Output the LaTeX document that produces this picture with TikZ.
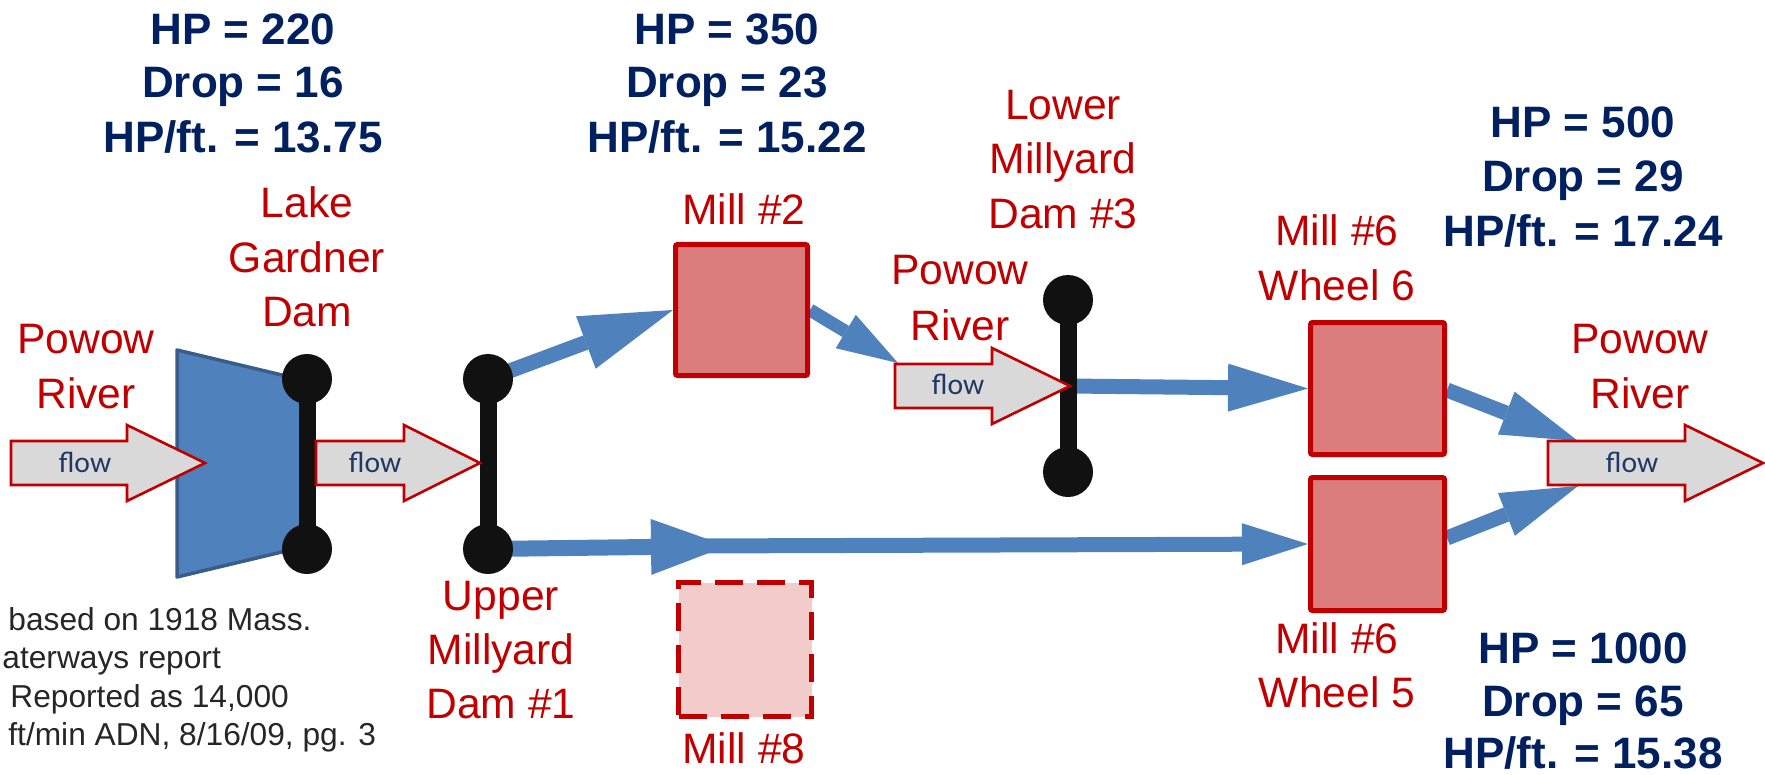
\documentclass[tikz,border=0pt]{standalone}
\usepackage{fontspec}
\setmainfont{Liberation Sans}
\newfontfamily\flowfont{Carlito}
\usetikzlibrary{arrows.meta,calc}
\pgfdeclarelayer{bg}
\pgfsetlayers{bg,main}
\definecolor{navy}{HTML}{002060}
\definecolor{myred}{HTML}{C00000}
\definecolor{millfill}{HTML}{DC7D7D}
\definecolor{milleightfill}{HTML}{F2CBCB}
\definecolor{riverblue}{HTML}{4F81BD}
\definecolor{damedge}{HTML}{385D8A}
\definecolor{flowgray}{HTML}{D9D9D9}
\definecolor{flownavy}{HTML}{1F3864}
\definecolor{notegray}{HTML}{262626}
\definecolor{damblack}{HTML}{111111}
\newcommand{\flowarrow}[4]{%
  \filldraw[flowshape] (#1,#4-22) -- (#2,#4-22) -- (#2,#4-38) -- (#3,#4) -- (#2,#4+38) -- (#2,#4+22) -- (#1,#4+22) -- cycle;}
\begin{document}
\begin{tikzpicture}[x=0.5pt,y=-0.5pt,
  hp/.style={font=\fontsize{22}{26}\selectfont\bfseries, text=navy, anchor=base, inner sep=0pt},
  lbl/.style={font=\fontsize{21.3}{26}\selectfont, text=myred, anchor=base, inner sep=0pt},
  note/.style={font=\fontsize{15.85}{19}\selectfont, text=notegray, anchor=base west, inner sep=0pt},
  flowtxt/.style={font=\flowfont\fontsize{14.8}{18}\selectfont, text=flownavy, anchor=base, inner sep=0pt},
  millbox/.style={draw=myred, fill=millfill, line width=2.5pt, rounded corners=1pt, minimum width=67pt, minimum height=66pt, inner sep=0pt},
  milleight/.style={draw=myred, fill=milleightfill, line width=2.5pt, dash pattern=on 14pt off 7pt, minimum width=66.5pt, minimum height=67pt, inner sep=0pt},
  damdot/.style={circle, fill=damblack, minimum size=25pt, inner sep=0pt},
  damline/.style={line width=8.5pt, draw=damblack},
  flowshape/.style={draw=myred, fill=flowgray, line width=1.3pt, line join=miter},
  bigflow/.style={draw=riverblue, line width=7.5pt},
]
\useasboundingbox (0,0) rectangle (1765,775);

% reservoir (Lake Gardner)
\filldraw[fill=riverblue, draw=damedge, line width=1.75pt, line join=round] (177,350) -- (307,381) -- (307,546) -- (177,577) -- cycle;

% mills
\node[millbox, minimum width=66pt, minimum height=65.5pt] (m2) at (741.5,310) {};
\node[millbox, minimum height=66pt] (w6) at (1377.5,388.5) {};
\node[millbox, minimum height=66.5pt] (w5) at (1377.5,544) {};
\node[milleight] (m8) at (745,649.5) {};

% dams
\node[damdot] (d1t) at (307,379) {};
\node[damdot] (d1b) at (307,549) {};
\node[damdot] (d2t) at (488,379) {};
\node[damdot] (d2b) at (488,549) {};
\node[damdot] (d3t) at (1068,300) {};
\node[damdot] (d3b) at (1068,472) {};
\draw[damline] (d1t.center) -- (d1b.center);
\draw[damline] (d2t.center) -- (d2b.center);
\draw[damline] (d3t.center) -- (d3b.center);

% helper coordinates
\coordinate (d3mid) at ($(d3t.center)!0.5!(d3b.center)$);
\coordinate (mid8) at (727,546);
\coordinate (mid8s) at (690,546);
\coordinate (fa3nw) at (898,363);
\coordinate (o6) at (1578,441);
\coordinate (o5) at (1578,486);

% blue water flows (behind)
\begin{pgfonlayer}{bg}
\draw[bigflow, -{Triangle[length=46.5pt,width=28pt,line width=0pt]}] (d2t.center) -- (m2.west);
\draw[bigflow, line width=6.5pt, -{Triangle[length=30.5pt,width=19.5pt,line width=0pt]}] (m2.east) -- (fa3nw);
\draw[bigflow, -{Triangle[length=40pt,width=24pt,line width=0pt]}] (d3mid) -- (w6.west);
\draw[bigflow, -{Triangle[length=33pt,width=21pt,line width=0pt]}] (mid8s) -- (w5.west);
\draw[bigflow, line width=8pt, -{Triangle[length=38pt,width=28pt,line width=0pt]}] (d2b.center) -- (mid8);
\draw[bigflow, -{Triangle[length=38.5pt,width=23pt,line width=0pt]}] ([yshift=-0.75pt]w6.east) -- (o6);
\draw[bigflow, -{Triangle[length=38.5pt,width=23pt,line width=0pt]}] ([yshift=3pt]w5.east) -- (o5);
\end{pgfonlayer}

% flow arrows
\flowarrow{11}{127}{205}{463}
\node[flowtxt] (f1) at (85,472) {flow};
\flowarrow{316}{404}{480}{463}
\node[flowtxt] (f2) at (375,472) {flow};
\flowarrow{895}{992}{1070}{386}
\node[flowtxt] (f3) at (958,394) {flow};
\flowarrow{1548}{1685}{1763}{463}
\node[flowtxt] (f4) at (1632,472) {flow};

% HP blocks
\node[hp] (ha1) at (243,45) {HP = 220};
\node[hp] (ha2) at (243,98) {Drop = 16};
\node[hp] (ha3) at (243,153) {HP/ft. = 13.75};
\node[hp] (hb1) at (727,45) {HP = 350};
\node[hp] (hb2) at (727,98) {Drop = 23};
\node[hp] (hb3) at (727,153) {HP/ft. = 15.22};
\node[hp] (hc1) at (1583,138) {HP = 500};
\node[hp] (hc2) at (1583,192) {Drop = 29};
\node[hp] (hc3) at (1583,247) {HP/ft. = 17.24};
\node[hp] (hd1) at (1583,663) {HP = 1000};
\node[hp] (hd2) at (1583,716) {Drop = 65};
\node[hp] (hd3) at (1583,768) {HP/ft. = 15.38};

% red labels
\node[lbl] (pl1) at (86,353) {Powow};
\node[lbl] (pl2) at (86,408) {River};
\node[lbl] (lg1) at (307,218) {Lake};
\node[lbl] (lg2) at (307,272) {Gardner};
\node[lbl] (lg3) at (307,326) {Dam};
\node[lbl] (um1) at (501,610) {Upper};
\node[lbl] (um2) at (501,664) {Millyard};
\node[lbl] (um3) at (501,718) {Dam \#1};
\node[lbl] (lm2) at (744,225) {Mill \#2};
\node[lbl] (lm8) at (744,763) {Mill \#8};
\node[lbl] (lo1) at (1063,120) {Lower};
\node[lbl] (lo2) at (1063,174) {Millyard};
\node[lbl] (lo3) at (1063,228) {Dam \#3};
\node[lbl] (pm1) at (960,285) {Powow};
\node[lbl] (pm2) at (960,340) {River};
\node[lbl] (ws1) at (1337,246) {Mill \#6};
\node[lbl] (ws2) at (1337,300) {Wheel 6};
\node[lbl] (wf1) at (1337,653) {Mill \#6};
\node[lbl] (wf2) at (1337,707) {Wheel 5};
\node[lbl] (pr1) at (1640,353) {Powow};
\node[lbl] (pr2) at (1640,408) {River};

% footnote
\node[note] (n1) at (8,630) {based on 1918 Mass.};
\node[note] (n2) at (2,668) {aterways report};
\node[note] (n3) at (10,707) {Reported as 14,000};
\node[note] (n4) at (8,745) {ft/min ADN, 8/16/09, pg. 3};
\end{tikzpicture}
\end{document}
